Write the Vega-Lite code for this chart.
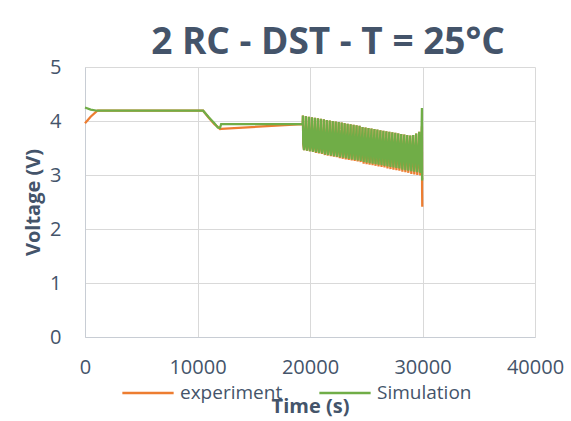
{
  "$schema": "https://vega.github.io/schema/vega-lite/v6.json",
  "width": 450,
  "height": 270,
  "autosize": "none",
  "padding": {"left": 85, "top": 67, "right": 36, "bottom": 84},
  "background": "white",
  "title": {"text": "2 RC - DST - T = 25°C", "font": "Open Sans", "fontSize": 37, "fontWeight": "bold", "color": "#44546A", "anchor": "middle", "dx": 18, "offset": -5},
  "data": {"values": [
    {"t": 0, "e": 3.96, "s": 4.25},
    {"t": 500, "e": 4.08, "s": 4.21},
    {"t": 1100, "e": 4.19, "s": 4.19},
    {"t": 10500, "e": 4.19, "s": 4.19},
    {"t": 11000, "e": 4.06, "s": 4.07},
    {"t": 11500, "e": 3.94, "s": 3.96},
    {"t": 11800, "e": 3.89, "s": 3.88},
    {"t": 12000, "e": 3.85, "s": 3.87},
    {"t": 12100, "e": 3.855, "s": 3.94},
    {"t": 19300, "e": 3.94, "s": 3.94},
    {"t": 19350, "e": 3.95, "s": 3.95}, {"t": 19370, "e": 4.10, "s": 4.10}, {"t": 19400, "e": 3.57, "s": 3.58}, {"t": 19470, "e": 3.46, "s": 3.46}, {"t": 19500, "e": 3.57, "s": 3.58},
    {"t": 19615, "e": 3.94, "s": 3.94}, {"t": 19635, "e": 4.09, "s": 4.09}, {"t": 19665, "e": 3.56, "s": 3.57}, {"t": 19735, "e": 3.45, "s": 3.45}, {"t": 19765, "e": 3.56, "s": 3.57},
    {"t": 19880, "e": 3.93, "s": 3.93}, {"t": 19900, "e": 4.08, "s": 4.08}, {"t": 19930, "e": 3.56, "s": 3.57}, {"t": 20000, "e": 3.44, "s": 3.44}, {"t": 20030, "e": 3.56, "s": 3.57},
    {"t": 20145, "e": 3.92, "s": 3.92}, {"t": 20165, "e": 4.07, "s": 4.07}, {"t": 20195, "e": 3.54, "s": 3.56}, {"t": 20265, "e": 3.43, "s": 3.43}, {"t": 20295, "e": 3.54, "s": 3.56},
    {"t": 20410, "e": 3.92, "s": 3.92}, {"t": 20430, "e": 4.06, "s": 4.06}, {"t": 20460, "e": 3.53, "s": 3.55}, {"t": 20530, "e": 3.41, "s": 3.42}, {"t": 20560, "e": 3.53, "s": 3.55},
    {"t": 20675, "e": 3.91, "s": 3.91}, {"t": 20695, "e": 4.05, "s": 4.05}, {"t": 20725, "e": 3.52, "s": 3.54}, {"t": 20795, "e": 3.40, "s": 3.41}, {"t": 20825, "e": 3.52, "s": 3.54},
    {"t": 20940, "e": 3.90, "s": 3.90}, {"t": 20960, "e": 4.04, "s": 4.04}, {"t": 20990, "e": 3.52, "s": 3.54}, {"t": 21060, "e": 3.39, "s": 3.40}, {"t": 21090, "e": 3.52, "s": 3.54},
    {"t": 21205, "e": 3.89, "s": 3.89}, {"t": 21225, "e": 4.03, "s": 4.03}, {"t": 21255, "e": 3.51, "s": 3.53}, {"t": 21325, "e": 3.37, "s": 3.38}, {"t": 21355, "e": 3.51, "s": 3.53},
    {"t": 21470, "e": 3.88, "s": 3.88}, {"t": 21490, "e": 4.02, "s": 4.02}, {"t": 21520, "e": 3.50, "s": 3.52}, {"t": 21590, "e": 3.36, "s": 3.37}, {"t": 21620, "e": 3.50, "s": 3.52},
    {"t": 21735, "e": 3.87, "s": 3.87}, {"t": 21755, "e": 4.01, "s": 4.01}, {"t": 21785, "e": 3.49, "s": 3.52}, {"t": 21855, "e": 3.35, "s": 3.36}, {"t": 21885, "e": 3.49, "s": 3.52},
    {"t": 22000, "e": 3.87, "s": 3.87}, {"t": 22020, "e": 4.00, "s": 4.00}, {"t": 22050, "e": 3.48, "s": 3.51}, {"t": 22120, "e": 3.34, "s": 3.35}, {"t": 22150, "e": 3.48, "s": 3.51},
    {"t": 22265, "e": 3.86, "s": 3.86}, {"t": 22285, "e": 3.99, "s": 3.99}, {"t": 22315, "e": 3.47, "s": 3.50}, {"t": 22385, "e": 3.33, "s": 3.34}, {"t": 22415, "e": 3.47, "s": 3.50},
    {"t": 22530, "e": 3.85, "s": 3.85}, {"t": 22550, "e": 3.98, "s": 3.98}, {"t": 22580, "e": 3.46, "s": 3.49}, {"t": 22650, "e": 3.31, "s": 3.33}, {"t": 22680, "e": 3.46, "s": 3.49},
    {"t": 22795, "e": 3.84, "s": 3.84}, {"t": 22815, "e": 3.97, "s": 3.97}, {"t": 22845, "e": 3.46, "s": 3.49}, {"t": 22915, "e": 3.30, "s": 3.32}, {"t": 22945, "e": 3.46, "s": 3.49},
    {"t": 23060, "e": 3.83, "s": 3.83}, {"t": 23080, "e": 3.96, "s": 3.96}, {"t": 23110, "e": 3.44, "s": 3.48}, {"t": 23180, "e": 3.29, "s": 3.31}, {"t": 23210, "e": 3.44, "s": 3.48},
    {"t": 23325, "e": 3.82, "s": 3.82}, {"t": 23345, "e": 3.95, "s": 3.95}, {"t": 23375, "e": 3.43, "s": 3.47}, {"t": 23445, "e": 3.28, "s": 3.30}, {"t": 23475, "e": 3.43, "s": 3.47},
    {"t": 23590, "e": 3.81, "s": 3.81}, {"t": 23610, "e": 3.94, "s": 3.94}, {"t": 23640, "e": 3.43, "s": 3.47}, {"t": 23710, "e": 3.27, "s": 3.29}, {"t": 23740, "e": 3.43, "s": 3.47},
    {"t": 23855, "e": 3.81, "s": 3.81}, {"t": 23875, "e": 3.93, "s": 3.93}, {"t": 23905, "e": 3.42, "s": 3.46}, {"t": 23975, "e": 3.26, "s": 3.28}, {"t": 24005, "e": 3.42, "s": 3.46},
    {"t": 24120, "e": 3.80, "s": 3.80}, {"t": 24140, "e": 3.92, "s": 3.92}, {"t": 24170, "e": 3.41, "s": 3.45}, {"t": 24240, "e": 3.25, "s": 3.27}, {"t": 24270, "e": 3.41, "s": 3.45},
    {"t": 24385, "e": 3.79, "s": 3.79}, {"t": 24405, "e": 3.91, "s": 3.91}, {"t": 24435, "e": 3.40, "s": 3.44}, {"t": 24505, "e": 3.24, "s": 3.26}, {"t": 24535, "e": 3.40, "s": 3.44},
    {"t": 24650, "e": 3.78, "s": 3.78}, {"t": 24670, "e": 3.89, "s": 3.89}, {"t": 24700, "e": 3.39, "s": 3.44}, {"t": 24770, "e": 3.21, "s": 3.24}, {"t": 24800, "e": 3.39, "s": 3.44},
    {"t": 24915, "e": 3.77, "s": 3.77}, {"t": 24935, "e": 3.88, "s": 3.88}, {"t": 24965, "e": 3.38, "s": 3.43}, {"t": 25035, "e": 3.20, "s": 3.23}, {"t": 25065, "e": 3.38, "s": 3.43},
    {"t": 25180, "e": 3.76, "s": 3.76}, {"t": 25200, "e": 3.87, "s": 3.87}, {"t": 25230, "e": 3.37, "s": 3.42}, {"t": 25300, "e": 3.19, "s": 3.22}, {"t": 25330, "e": 3.37, "s": 3.42},
    {"t": 25445, "e": 3.76, "s": 3.76}, {"t": 25465, "e": 3.86, "s": 3.86}, {"t": 25495, "e": 3.37, "s": 3.42}, {"t": 25565, "e": 3.18, "s": 3.21}, {"t": 25595, "e": 3.37, "s": 3.42},
    {"t": 25710, "e": 3.75, "s": 3.75}, {"t": 25730, "e": 3.85, "s": 3.85}, {"t": 25760, "e": 3.36, "s": 3.41}, {"t": 25830, "e": 3.17, "s": 3.20}, {"t": 25860, "e": 3.36, "s": 3.41},
    {"t": 25975, "e": 3.74, "s": 3.74}, {"t": 25995, "e": 3.84, "s": 3.84}, {"t": 26025, "e": 3.34, "s": 3.40}, {"t": 26095, "e": 3.16, "s": 3.19}, {"t": 26125, "e": 3.34, "s": 3.40},
    {"t": 26240, "e": 3.73, "s": 3.73}, {"t": 26260, "e": 3.83, "s": 3.83}, {"t": 26290, "e": 3.33, "s": 3.39}, {"t": 26360, "e": 3.15, "s": 3.18}, {"t": 26390, "e": 3.33, "s": 3.39},
    {"t": 26505, "e": 3.72, "s": 3.72}, {"t": 26525, "e": 3.82, "s": 3.82}, {"t": 26555, "e": 3.33, "s": 3.39}, {"t": 26625, "e": 3.14, "s": 3.17}, {"t": 26655, "e": 3.33, "s": 3.39},
    {"t": 26770, "e": 3.71, "s": 3.71}, {"t": 26790, "e": 3.81, "s": 3.81}, {"t": 26820, "e": 3.32, "s": 3.38}, {"t": 26890, "e": 3.12, "s": 3.16}, {"t": 26920, "e": 3.32, "s": 3.38},
    {"t": 27035, "e": 3.70, "s": 3.70}, {"t": 27055, "e": 3.80, "s": 3.80}, {"t": 27085, "e": 3.31, "s": 3.37}, {"t": 27155, "e": 3.11, "s": 3.15}, {"t": 27185, "e": 3.31, "s": 3.37},
    {"t": 27300, "e": 3.70, "s": 3.70}, {"t": 27320, "e": 3.79, "s": 3.79}, {"t": 27350, "e": 3.31, "s": 3.37}, {"t": 27420, "e": 3.10, "s": 3.14}, {"t": 27450, "e": 3.31, "s": 3.37},
    {"t": 27565, "e": 3.69, "s": 3.69}, {"t": 27585, "e": 3.78, "s": 3.78}, {"t": 27615, "e": 3.29, "s": 3.36}, {"t": 27685, "e": 3.09, "s": 3.13}, {"t": 27715, "e": 3.29, "s": 3.36},
    {"t": 27830, "e": 3.68, "s": 3.68}, {"t": 27850, "e": 3.77, "s": 3.77}, {"t": 27880, "e": 3.28, "s": 3.35}, {"t": 27950, "e": 3.08, "s": 3.12}, {"t": 27980, "e": 3.28, "s": 3.35},
    {"t": 28095, "e": 3.67, "s": 3.67}, {"t": 28115, "e": 3.76, "s": 3.76}, {"t": 28145, "e": 3.27, "s": 3.34}, {"t": 28215, "e": 3.06, "s": 3.10}, {"t": 28245, "e": 3.27, "s": 3.34},
    {"t": 28360, "e": 3.66, "s": 3.66}, {"t": 28380, "e": 3.75, "s": 3.75}, {"t": 28410, "e": 3.27, "s": 3.34}, {"t": 28480, "e": 3.05, "s": 3.09}, {"t": 28510, "e": 3.27, "s": 3.34},
    {"t": 28625, "e": 3.65, "s": 3.65}, {"t": 28645, "e": 3.74, "s": 3.74}, {"t": 28675, "e": 3.26, "s": 3.33}, {"t": 28745, "e": 3.04, "s": 3.08}, {"t": 28775, "e": 3.26, "s": 3.33},
    {"t": 28890, "e": 3.65, "s": 3.65}, {"t": 28910, "e": 3.73, "s": 3.73}, {"t": 28940, "e": 3.25, "s": 3.32}, {"t": 29010, "e": 3.02, "s": 3.07}, {"t": 29040, "e": 3.25, "s": 3.32},
    {"t": 29155, "e": 3.64, "s": 3.64}, {"t": 29175, "e": 3.74, "s": 3.74}, {"t": 29205, "e": 3.24, "s": 3.32}, {"t": 29275, "e": 3.01, "s": 3.06}, {"t": 29305, "e": 3.24, "s": 3.32},
    {"t": 29420, "e": 3.63, "s": 3.63}, {"t": 29440, "e": 3.77, "s": 3.77}, {"t": 29470, "e": 3.23, "s": 3.31}, {"t": 29540, "e": 3.00, "s": 3.05}, {"t": 29570, "e": 3.23, "s": 3.31},
    {"t": 29685, "e": 3.62, "s": 3.62}, {"t": 29705, "e": 3.80, "s": 3.80}, {"t": 29735, "e": 3.22, "s": 3.30}, {"t": 29805, "e": 2.99, "s": 3.04}, {"t": 29835, "e": 3.22, "s": 3.30},
    {"t": 29900, "e": 3.55, "s": 3.60},
    {"t": 29950, "e": 3.90, "s": 4.24},
    {"t": 29965, "e": 2.72, "s": 2.90},
    {"t": 29980, "e": 2.41, "s": 2.95}
  ]},
  "encoding": {
    "x": {
      "field": "t", "type": "quantitative",
      "scale": {"domain": [0, 40000]},
      "axis": {
        "values": [0, 10000, 20000, 30000, 40000], "format": "d",
        "title": "Time (s)", "titlePadding": 19, "labelPadding": 20
      }
    }
  },
  "layer": [
    {
      "mark": {"type": "line", "strokeWidth": 2.25},
      "encoding": {
        "y": {"field": "e", "type": "quantitative", "title": "Voltage (V)",
              "scale": {"domain": [0, 5]},
              "axis": {"values": [0, 1, 2, 3, 4, 5], "labelPadding": 24, "titlePadding": 6}},
        "color": {
          "datum": "experiment",
          "scale": {"domain": ["experiment", "Simulation"], "range": ["#ED7D31", "#70AD47"]},
          "legend": {
            "title": null, "orient": "none", "legendX": 36, "legendY": 299,
            "direction": "horizontal", "symbolType": "stroke", "symbolSize": 2630,
            "symbolStrokeWidth": 2.5, "labelFont": "Open Sans", "labelFontSize": 19,
            "labelColor": "#44546A", "labelOffset": 5, "columnPadding": 31, "padding": 0
          }
        }
      }
    },
    {
      "mark": {"type": "line", "strokeWidth": 2.25},
      "encoding": {
        "y": {"field": "s", "type": "quantitative", "title": "Voltage (V)"},
        "color": {"datum": "Simulation"}
      }
    }
  ],
  "config": {
    "view": {"stroke": null},
    "axis": {
      "labelFont": "Open Sans", "labelFontSize": 20, "labelColor": "#44546A",
      "titleFont": "Open Sans", "titleFontSize": 20, "titleFontWeight": "bold", "titleColor": "#44546A",
      "ticks": false, "tickSize": 0, "grid": true, "gridColor": "#D9D9D9", "gridWidth": 1,
      "domainColor": "#C8CDD4", "domainWidth": 1, "labelFlush": false, "labelOverlap": false
    }
  }
}
